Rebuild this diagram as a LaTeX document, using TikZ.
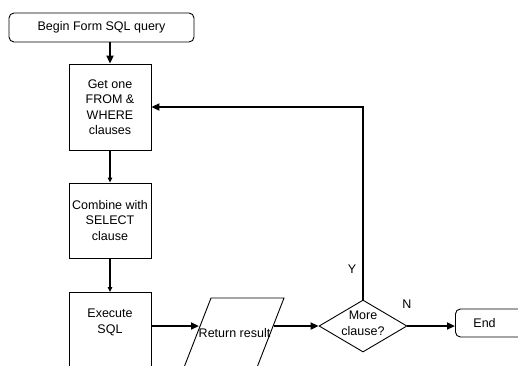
\documentclass[tikz,border=0pt]{standalone}
\usepackage{fontspec}
\setmainfont{Liberation Sans}
\usetikzlibrary{shapes.geometric}
\usetikzlibrary{arrows.meta}
\tikzset{
  txt/.style={font=\fontsize{12.5}{15.5}\selectfont,align=center,inner sep=0},
  procbox/.style={txt,draw,rectangle,line width=0.9pt,minimum width=82},
  termbox/.style={txt,draw,rectangle,rounded corners=5pt,line width=0.9pt},
  bigarrow/.style={line width=2.6pt,-{Triangle[length=8pt,width=7pt]}},
  smallarrow/.style={line width=1.1pt,-{Triangle[length=5pt,width=4.5pt]}},
}

\begin{document}
\begin{tikzpicture}[x=1pt,y=-1pt]
\useasboundingbox (0,0) rectangle (518,365);
\node[termbox,minimum width=185,minimum height=29] (begin) at (101.5,27.5) {Begin Form SQL query};
\node[procbox,minimum height=86] (get) at (110,107) {Get one\\FROM \&\\WHERE\\clauses};
\node[procbox,minimum height=75] (comb) at (110,220.5) {Combine with\\SELECT\\clause};
\node[procbox,minimum height=110,anchor=north] (exec) at (110,292) {};
\node[txt] (exectext) at (110,322.5) {Execute\\SQL};
\draw[line width=0.9pt] (211,298) -- (284,298) -- (256,370) -- (183,370) -- cycle;
\node[txt] (ret) at (234.5,333) {Return result};
\coordinate (retin) at (199,326);
\coordinate (retout) at (274,326);
\node[draw,diamond,minimum width=88,minimum height=52,line width=0.9pt,inner sep=0.5pt] (dec) at (363,326) {};
\node[txt] (dectext) at (363,323) {More\\clause?};
\node[termbox,anchor=west,minimum height=28,text width=50pt,align=left,inner xsep=18pt] (end) at (455,323) {End};
\node[txt] (yes) at (352,269) {Y};
\node[txt] (no) at (407,304) {N};

\draw[bigarrow] (begin.south -| get.north) -- (get.north);
\draw[smallarrow] (get) -- (comb);
\draw[smallarrow] (comb) -- (exec);
\draw[bigarrow] (exec.east |- retin) -- (retin);
\draw[bigarrow] (retout) -- (dec.west);
\draw[bigarrow] (dec.east) -- (dec.east -| end.west);
\draw[bigarrow] (dec.north) -- (dec.north |- get.east) -- (get.east);

\end{tikzpicture}
\end{document}
